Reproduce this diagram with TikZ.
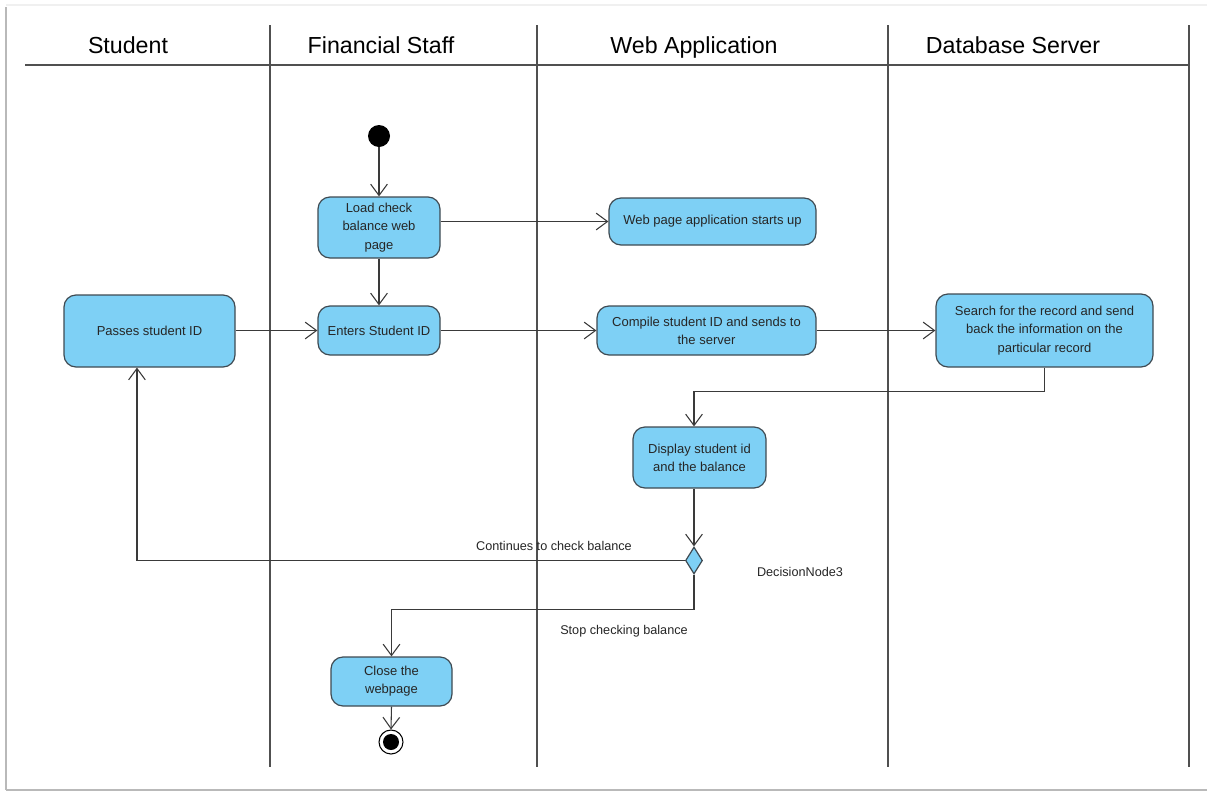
\documentclass[tikz,border=0pt]{standalone}
\usepackage{fontspec}
\setmainfont{Liberation Sans}
\usetikzlibrary{arrows.meta,shapes.geometric,calc}
\definecolor{actfill}{HTML}{7ED0F5}
\definecolor{actdraw}{HTML}{3F4A52}
\definecolor{lanecol}{HTML}{505050}
\definecolor{flowcol}{HTML}{3A3A3A}
\tikzset{
  action/.style={draw=actdraw, fill=actfill, line width=0.9pt, rounded corners=9pt,
    inner sep=2pt, align=center, font=\fontsize{9.75}{13.6}\selectfont, text=black!85},
  lane/.style={draw=lanecol, line width=1.1pt},
  flow/.style={draw=flowcol, line width=0.8pt, -{Straight Barb[length=8.5pt,width=12.5pt,line width=0.8pt]}},
  header/.style={font=\fontsize{17.4}{20}\selectfont, anchor=base},
  edgelabel/.style={font=\fontsize{9.5}{12}\selectfont, text=black!85},
}
\begin{document}
\begin{tikzpicture}[x=0.75pt,y=-0.75pt]
\useasboundingbox (0,0) rectangle (1207,793);
% page frame shadow
\fill[white] (6,6) rectangle (1207,790);
\draw[gray!12, line width=1.5pt] (6,5) -- (1207,5);
\draw[gray!55, line width=2pt] (6,7) -- (6,790);
\draw[gray!55, line width=2pt] (6,790) -- (1207,790);

% swimlanes
\draw[lane] (25,65) -- (1190,65);
\foreach \lx in {270,537,888,1189} \draw[lane] (\lx,25) -- (\lx,767);
\node[header] (hstudent) at (128,53) {Student};
\node[header] (hstaff)   at (381,53) {Financial Staff};
\node[header] (hweb)     at (694,53) {Web Application};
\node[header] (hdb)      at (1013,53) {Database Server};

% activity nodes
\node[circle, fill=black, minimum size=16.5pt, inner sep=0] (start) at (379,136) {};
\node[action, minimum width=91.5pt, minimum height=45.75pt] (load) at (379,227.5) {Load check\\balance web\\page};
\node[action, minimum width=155.25pt, minimum height=35.25pt] (webstart) at (712.5,221.5) {Web page application starts up};
\node[action, minimum width=128.25pt, minimum height=54pt] (passes) at (149.5,331) {Passes student ID};
\node[action, minimum width=91.5pt, minimum height=36.75pt] (enters) at (379,330.5) {Enters Student ID};
\node[action, minimum width=164.25pt, minimum height=36.75pt] (compile) at (706.5,330.5) {Compile student ID and sends to\\the server};
\node[action, minimum width=162.75pt, minimum height=54.75pt] (search) at (1044.5,330.5) {Search for the record and send\\back the information on the\\particular record};
\node[action, minimum width=99.75pt, minimum height=45.75pt] (display) at (699.5,457.5) {Display student id\\and the balance};
\node[diamond, draw=actdraw, fill=actfill, line width=0.9pt, inner sep=0, minimum width=12.75pt, minimum height=20.25pt] (dec) at (694,560.5) {};
\node[action, minimum width=90.75pt, minimum height=36.75pt] (close) at (391.5,681.5) {Close the\\webpage};
\node[circle, draw=black, line width=0.8pt, fill=white, minimum size=18pt, inner sep=0] (final) at (391,742) {};
\node[circle, fill=black, minimum size=12pt, inner sep=0] (finaldot) at (final) {};

% labels
\node[edgelabel] (lcont) at (554,546) {Continues to check balance};
\node[edgelabel] (lstop) at (624,631) {Stop checking balance};
\node[edgelabel] (ldec) at (800,572) {DecisionNode3};

% control flows
\draw[flow] (start) -- (load);
\draw[flow] (load.east |- webstart) -- (webstart.west);
\draw[flow] (load) -- (enters);
\draw[flow] (passes.east |- enters) -- (enters.west);
\draw[flow] (enters.east) -- (compile.west);
\draw[flow] (compile.east) -- (search.west);
\draw[flow] (search.south) -- ++(0,24) -| (dec |- display.north);
\draw[flow] (dec |- display.south) -- (dec.north);
\draw[flow] (dec.west) -| ([xshift=-9.4pt]passes.south);
\draw[flow] (dec.south) -- ++(0,35) -| (close.north);
\draw[flow] (close.south) -- (final.north);
\end{tikzpicture}
\end{document}
